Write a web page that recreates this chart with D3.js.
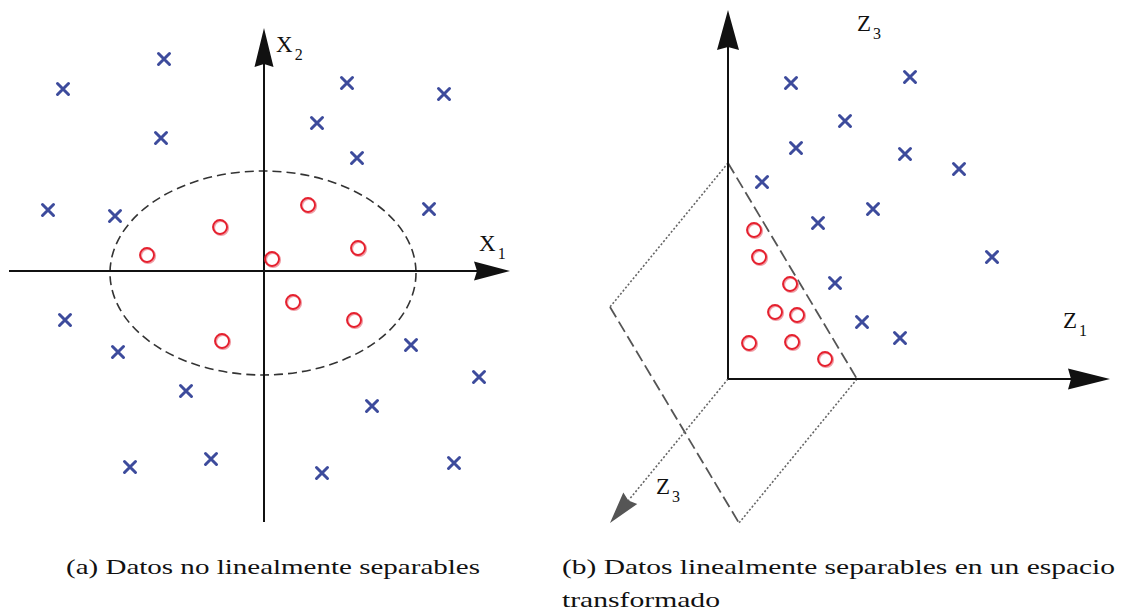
<!DOCTYPE html>
<html>
<head>
<meta charset="utf-8">
<script src="https://cdn.jsdelivr.net/npm/d3@7"></script>
<style>
  body { margin: 0; background: #fff; }
  svg { display: block; }
  text { font-family: "Liberation Serif", "Times New Roman", serif; }
</style>
</head>
<body>
<div id="chart"></div>
<script>
// (a) original space: points in (x1, x2) units
const leftCrosses = [
  [-2.01, 1.82], [-1.00, 2.12], [-1.03, 1.33], [-2.16, 0.61], [-1.49, 0.55],
  [0.83, 1.88], [1.80, 1.77], [0.53, 1.48], [0.93, 1.13], [1.65, 0.62],
  [-1.99, -0.49], [-1.46, -0.81], [-0.78, -1.20], [1.47, -0.74], [2.15, -1.06],
  [1.08, -1.35], [-1.34, -1.96], [-0.53, -1.88], [0.58, -2.02], [1.90, -1.92]
];
const leftCircles = [
  [-1.17, 0.16], [-0.44, 0.44], [0.44, 0.66], [0.08, 0.12],
  [0.94, 0.23], [0.29, -0.31], [0.90, -0.49], [-0.42, -0.70]
];
// ellipse boundary: centre x1, centre x2, radius x1, radius x2
const leftBoundary = [-0.01, -0.02, 1.53, 1.02];

// (b) transformed space: points in (z1, z3) units
const rightCrosses = [
  [0.63, 2.96], [1.82, 3.02], [1.17, 2.58], [0.68, 2.31], [1.77, 2.25],
  [2.31, 2.10], [0.34, 1.97], [1.45, 1.70], [0.90, 1.56], [2.64, 1.22],
  [1.07, 0.96], [1.34, 0.57], [1.72, 0.41]
];
const rightCircles = [
  [0.26, 1.49], [0.31, 1.22], [0.62, 0.95], [0.47, 0.67],
  [0.69, 0.64], [0.21, 0.36], [0.64, 0.37], [0.97, 0.20]
];
// separating plane: cuts z1 and z3 axes here, spans depth 0..1
const planeCuts = [1.29, 2.16];
const planeDepth = 1;

const captionA = ['(a) Datos no linealmente separables'];
const captionB = ['(b) Datos linealmente separables en un espacio', 'transformado'];

const width = 1124, height = 612;
const crossColor = '#3d4b9c', circleColor = '#e5202e';

let svg = d3.select('#chart')
  .append('svg')
  .attr('width', width)
  .attr('height', height);

svg.append('rect').attr('width', width).attr('height', height).attr('fill', '#fff');

// filled triangular arrow head, tip at (x, y), pointing from (fx, fy)
function arrowHead(g, fx, fy, x, y, len, hw, color) {
  let dx = x - fx, dy = y - fy;
  let l = Math.sqrt(dx * dx + dy * dy);
  let ux = dx / l, uy = dy / l;
  let bx = x - ux * len, by = y - uy * len;
  let pts = [[x, y], [bx - uy * hw, by + ux * hw], [bx + ux * 3, by + uy * 3], [bx + uy * hw, by - ux * hw]];
  g.append('path')
    .attr('d', d3.line()(pts) + 'Z')
    .attr('fill', color);
}

function drawCrosses(g, data, sx, sy) {
  g.selectAll('.cross')
    .data(data)
    .enter().append('path')
    .attr('class', 'cross')
    .attr('d', d => {
      let x = sx(d[0]), y = sy(d[1]), s = 5.5;
      return `M${x - s},${y - s}L${x + s},${y + s}M${x - s},${y + s}L${x + s},${y - s}`;
    })
    .attr('stroke', crossColor)
    .attr('stroke-width', 3)
    .attr('stroke-linecap', 'round');
}

function drawCircles(g, data, sx, sy) {
  g.selectAll('.shadow')
    .data(data)
    .enter().append('circle')
    .attr('class', 'shadow')
    .attr('cx', d => sx(d[0]) + 1)
    .attr('cy', d => sy(d[1]) + 1)
    .attr('r', 7)
    .attr('fill', 'none')
    .attr('stroke', '#f0a0a8')
    .attr('stroke-width', 2.2);
  g.selectAll('.ring')
    .data(data)
    .enter().append('circle')
    .attr('class', 'ring')
    .attr('cx', d => sx(d[0]))
    .attr('cy', d => sy(d[1]))
    .attr('r', 7)
    .attr('fill', 'none')
    .attr('stroke', circleColor)
    .attr('stroke-width', 1.9);
}

function axisLabel(g, x, y, main, sub) {
  let t = g.append('text')
    .attr('x', x).attr('y', y)
    .attr('font-size', 23)
    .attr('fill', '#111');
  t.append('tspan').text(main);
  t.append('tspan').attr('dx', 2).attr('dy', 8).attr('font-size', 16).text(sub);
}

// ---------- panel (a) ----------
let x1 = d3.scaleLinear().domain([-2.55, 2.46]).range([9, 510]);
let x2 = d3.scaleLinear().domain([-2.51, 2.43]).range([522, 28]);
let ga = svg.append('g');

ga.append('ellipse')
  .attr('cx', x1(leftBoundary[0]))
  .attr('cy', x2(leftBoundary[1]))
  .attr('rx', x1(leftBoundary[2]) - x1(0))
  .attr('ry', x2(0) - x2(leftBoundary[3]))
  .attr('fill', 'none')
  .attr('stroke', '#333')
  .attr('stroke-width', 1.6)
  .attr('stroke-dasharray', '9,5');

ga.append('line')
  .attr('x1', x1(-2.55)).attr('y1', x2(0))
  .attr('x2', x1(2.2)).attr('y2', x2(0))
  .attr('stroke', '#111').attr('stroke-width', 2);
arrowHead(ga, x1(0), x2(0), x1(2.46), x2(0), 36, 9.5, '#111');

ga.append('line')
  .attr('x1', x1(0)).attr('y1', x2(-2.51))
  .attr('x2', x1(0)).attr('y2', x2(2.2))
  .attr('stroke', '#111').attr('stroke-width', 2);
arrowHead(ga, x1(0), x2(0), x1(0), x2(2.43), 39, 9.5, '#111');

drawCrosses(ga, leftCrosses, x1, x2);
drawCircles(ga, leftCircles, x1, x2);

axisLabel(ga, 276, 52, 'X', '2');
axisLabel(ga, 479, 251, 'X', '1');

// ---------- panel (b) ----------
let z1 = d3.scaleLinear().domain([0, 3.82]).range([728, 1110]);
let z3 = d3.scaleLinear().domain([0, 3.69]).range([379, 10]);
// oblique projection for the depth axis
const depthVec = [-118, 144];
function proj(a, b, d) {
  return [z1(a) + depthVec[0] * d, z3(b) + depthVec[1] * d];
}
let gb = svg.append('g');

let top0 = proj(0, planeCuts[1], 0), top1 = proj(0, planeCuts[1], planeDepth);
let rgt0 = proj(planeCuts[0], 0, 0), rgt1 = proj(planeCuts[0], 0, planeDepth);

// dotted edges of the plane
[[top0, top1], [rgt0, rgt1]].forEach(p => {
  gb.append('line')
    .attr('x1', p[0][0]).attr('y1', p[0][1])
    .attr('x2', p[1][0]).attr('y2', p[1][1])
    .attr('stroke', '#666').attr('stroke-width', 1.6)
    .attr('stroke-dasharray', '2,2');
});
// dashed edges of the plane
[[top0, rgt0], [top1, rgt1]].forEach(p => {
  gb.append('line')
    .attr('x1', p[0][0]).attr('y1', p[0][1])
    .attr('x2', p[1][0]).attr('y2', p[1][1])
    .attr('stroke', '#555').attr('stroke-width', 1.8)
    .attr('stroke-dasharray', '12,5');
});

// depth axis (dotted, grey arrow)
let o = proj(0, 0, 0), dTip = proj(0, 0, 1);
gb.append('line')
  .attr('x1', o[0]).attr('y1', o[1])
  .attr('x2', proj(0, 0, 0.85)[0]).attr('y2', proj(0, 0, 0.85)[1])
  .attr('stroke', '#666').attr('stroke-width', 1.6)
  .attr('stroke-dasharray', '2,2');
arrowHead(gb, o[0], o[1], dTip[0], dTip[1], 32, 9, '#555');

gb.append('line')
  .attr('x1', z1(0)).attr('y1', z3(0))
  .attr('x2', z1(0)).attr('y2', z3(3.5))
  .attr('stroke', '#111').attr('stroke-width', 2);
arrowHead(gb, z1(0), z3(0), z1(0), z3(3.69), 40, 11, '#111');

gb.append('line')
  .attr('x1', z1(0)).attr('y1', z3(0))
  .attr('x2', z1(3.6)).attr('y2', z3(0))
  .attr('stroke', '#111').attr('stroke-width', 2);
arrowHead(gb, z1(0), z3(0), z1(3.82), z3(0), 42, 10.5, '#111');

drawCrosses(gb, rightCrosses, z1, z3);
drawCircles(gb, rightCircles, z1, z3);

axisLabel(gb, 857, 31, 'Z', '3');
axisLabel(gb, 1063, 328, 'Z', '1');
axisLabel(gb, 656, 494, 'Z', '3');

// ---------- captions ----------
function caption(x, lines, widths) {
  lines.forEach((s, i) => {
    svg.append('text')
      .attr('x', x).attr('y', 574 + i * 33)
      .attr('font-size', 21)
      .attr('fill', '#111')
      .attr('textLength', widths[i])
      .attr('lengthAdjust', 'spacingAndGlyphs')
      .text(s);
  });
}
caption(66, captionA, [414]);
caption(562, captionB, [553, 158]);
</script>
</body>
</html>
